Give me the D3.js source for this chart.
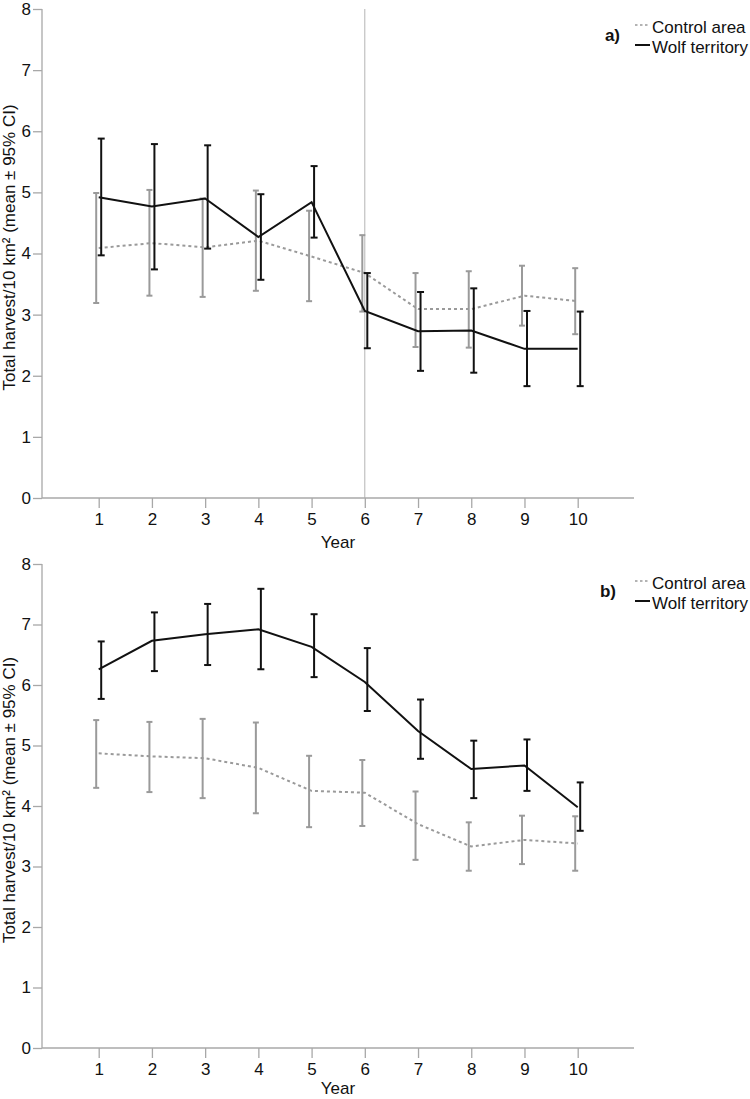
<!DOCTYPE html>
<html>
<head>
<meta charset="utf-8">
<script src="https://cdn.jsdelivr.net/npm/d3@7"></script>
<style>
  html, body { margin: 0; padding: 0; background: #fff; }
  svg { display: block; font-family: Arial, "Liberation Sans", sans-serif; }
</style>
</head>
<body>
<svg id="chart" width="750" height="1099"></svg>
<script>
// ---- Data ----
const years = [1, 2, 3, 4, 5, 6, 7, 8, 9, 10];
const yTicks = [0, 1, 2, 3, 4, 5, 6, 7, 8];
const seriesNames = ["Control area", "Wolf territory"];
const panelLabels = ["a)", "b)"];

// Panel a
const controlA     = [4.09, 4.17, 4.10, 4.21, 3.95, 3.68, 3.09, 3.09, 3.31, 3.22];
const controlALow  = [3.19, 3.31, 3.29, 3.39, 3.22, 3.05, 2.47, 2.46, 2.82, 2.68];
const controlAHigh = [4.99, 5.04, 4.90, 5.03, 4.70, 4.30, 3.68, 3.71, 3.80, 3.76];
const wolfA        = [4.92, 4.77, 4.90, 4.27, 4.84, 3.06, 2.73, 2.74, 2.44, 2.44];
const wolfALow     = [3.97, 3.74, 4.08, 3.57, 4.26, 2.45, 2.08, 2.05, 1.83, 1.83];
const wolfAHigh    = [5.88, 5.79, 5.77, 4.97, 5.43, 3.68, 3.37, 3.43, 3.06, 3.05];
const refYearA = 6;

// Panel b
const controlB     = [4.87, 4.82, 4.79, 4.63, 4.25, 4.22, 3.70, 3.33, 3.44, 3.38];
const controlBLow  = [4.30, 4.23, 4.13, 3.88, 3.65, 3.67, 3.11, 2.93, 3.04, 2.93];
const controlBHigh = [5.42, 5.39, 5.44, 5.38, 4.83, 4.76, 4.24, 3.73, 3.84, 3.83];
const wolfB        = [6.26, 6.73, 6.84, 6.92, 6.63, 6.05, 5.24, 4.61, 4.67, 3.98];
const wolfBLow     = [5.77, 6.23, 6.33, 6.26, 6.13, 5.57, 4.78, 4.13, 4.25, 3.59];
const wolfBHigh    = [6.72, 7.20, 7.34, 7.59, 7.17, 6.61, 5.76, 5.08, 5.10, 4.39];

const yTitle = "Total harvest/10 km\u00B2 (mean \u00B1 95% CI)";
const xTitle = "Year";

// ---- Drawing ----
const svg = d3.select("#chart");
const axisColor = "#a8a8a8";
const grayColor = "#9a9a9a";
const FS = 17;

function drawPanel(opt) {
  const g = svg.append("g");
  const x = d3.scaleLinear().domain([1, 10]).range([98.7, 577.7]);
  const y = d3.scaleLinear().domain([0, 8]).range([opt.y0, opt.y8]);
  const axisLeft = 42, axisRight = 634;

  // reference vertical line
  if (opt.refYear != null) {
    g.append("line")
      .attr("x1", x(opt.refYear)).attr("x2", x(opt.refYear))
      .attr("y1", y(8)).attr("y2", y(0))
      .attr("stroke", "#b4b4b4").attr("stroke-width", 1);
  }

  // y axis
  const ya = g.append("g").attr("transform", `translate(${axisLeft},0)`)
    .call(d3.axisLeft(y).tickValues(yTicks).tickSize(9).tickPadding(2).tickFormat(d3.format("d")));
  ya.select(".domain").remove();
  ya.append("line").attr("x1", 0).attr("x2", 0).attr("y1", y(8)).attr("y2", y(0))
    .attr("stroke", axisColor).attr("stroke-width", 1.3);
  ya.selectAll(".tick line").attr("stroke", axisColor).attr("stroke-width", 1.3);
  ya.selectAll(".tick text").attr("fill", "#111").style("font-size", FS + "px")
    .style("font-family", "Arial, 'Liberation Sans', sans-serif");

  // x axis
  const xa = g.append("g").attr("transform", `translate(0,${y(0)})`)
    .call(d3.axisBottom(x).tickValues(years).tickSize(10).tickPadding(5).tickFormat(d3.format("d")));
  xa.select(".domain").remove();
  xa.append("line").attr("x1", axisLeft).attr("x2", axisRight).attr("y1", 0).attr("y2", 0)
    .attr("stroke", axisColor).attr("stroke-width", 1.3);
  xa.selectAll(".tick line").attr("stroke", axisColor).attr("stroke-width", 1.3);
  xa.selectAll(".tick text").attr("fill", "#111").style("font-size", FS + "px")
    .style("font-family", "Arial, 'Liberation Sans', sans-serif");

  // titles
  g.append("text").attr("x", 338).attr("y", y(0) + opt.xTitleOffset)
    .attr("text-anchor", "middle").style("font-size", FS + "px").attr("fill", "#111")
    .text(xTitle);
  g.append("text")
    .attr("transform", `translate(15,${(y(0) + y(8)) / 2 - 6}) rotate(-90)`)
    .attr("text-anchor", "middle").style("font-size", FS + "px").attr("fill", "#111")
    .text(yTitle);

  const line = d3.line().x((d, i) => x(years[i])).y(d => y(d));

  function errorBars(mean, low, high, dx, color, cap) {
    const eg = g.append("g");
    years.forEach((yr, i) => {
      const cx = x(yr) + dx;
      eg.append("line").attr("x1", cx).attr("x2", cx).attr("y1", y(low[i])).attr("y2", y(high[i]))
        .attr("stroke", color).attr("stroke-width", 2);
      [low[i], high[i]].forEach(v => {
        eg.append("line").attr("x1", cx - cap).attr("x2", cx + cap).attr("y1", y(v)).attr("y2", y(v))
          .attr("stroke", color).attr("stroke-width", 2);
      });
    });
  }

  // control (gray dotted)
  errorBars(opt.control, opt.controlLow, opt.controlHigh, -2.5, grayColor, 3);
  g.append("path").datum(opt.control).attr("d", line)
    .attr("fill", "none").attr("stroke", grayColor).attr("stroke-width", 2)
    .attr("stroke-dasharray", "3,3");

  // wolf (black solid)
  errorBars(opt.wolf, opt.wolfLow, opt.wolfHigh, 2.5, "#111", 3.5);
  g.append("path").datum(opt.wolf).attr("d", line)
    .attr("fill", "none").attr("stroke", "#111").attr("stroke-width", 2);

  // legend
  const ly = opt.legendY; // baseline of first row
  g.append("text").attr("x", opt.labelX).attr("y", ly + 8)
    .attr("text-anchor", "end").style("font-size", FS + "px").style("font-weight", "bold")
    .attr("fill", "#111").text(opt.label);
  g.append("line").attr("x1", 635).attr("x2", 650).attr("y1", ly - 8).attr("y2", ly - 8)
    .attr("stroke", grayColor).attr("stroke-width", 1.5).attr("stroke-dasharray", "2.5,2.5");
  g.append("line").attr("x1", 635).attr("x2", 650).attr("y1", ly + 12).attr("y2", ly + 12)
    .attr("stroke", "#111").attr("stroke-width", 2);
  g.append("text").attr("x", 652).attr("y", ly).style("font-size", FS + "px").attr("fill", "#111")
    .text(seriesNames[0]);
  g.append("text").attr("x", 652).attr("y", ly + 20).style("font-size", FS + "px").attr("fill", "#111")
    .text(seriesNames[1]);
}

drawPanel({
  y0: 498, y8: 9, refYear: refYearA, xTitleOffset: 50,
  control: controlA, controlLow: controlALow, controlHigh: controlAHigh,
  wolf: wolfA, wolfLow: wolfALow, wolfHigh: wolfAHigh,
  legendY: 33, label: panelLabels[0], labelX: 620
});
drawPanel({
  y0: 1048, y8: 564, refYear: null, xTitleOffset: 46,
  control: controlB, controlLow: controlBLow, controlHigh: controlBHigh,
  wolf: wolfB, wolfLow: wolfBLow, wolfHigh: wolfBHigh,
  legendY: 589, label: panelLabels[1], labelX: 616
});
</script>
</body>
</html>
